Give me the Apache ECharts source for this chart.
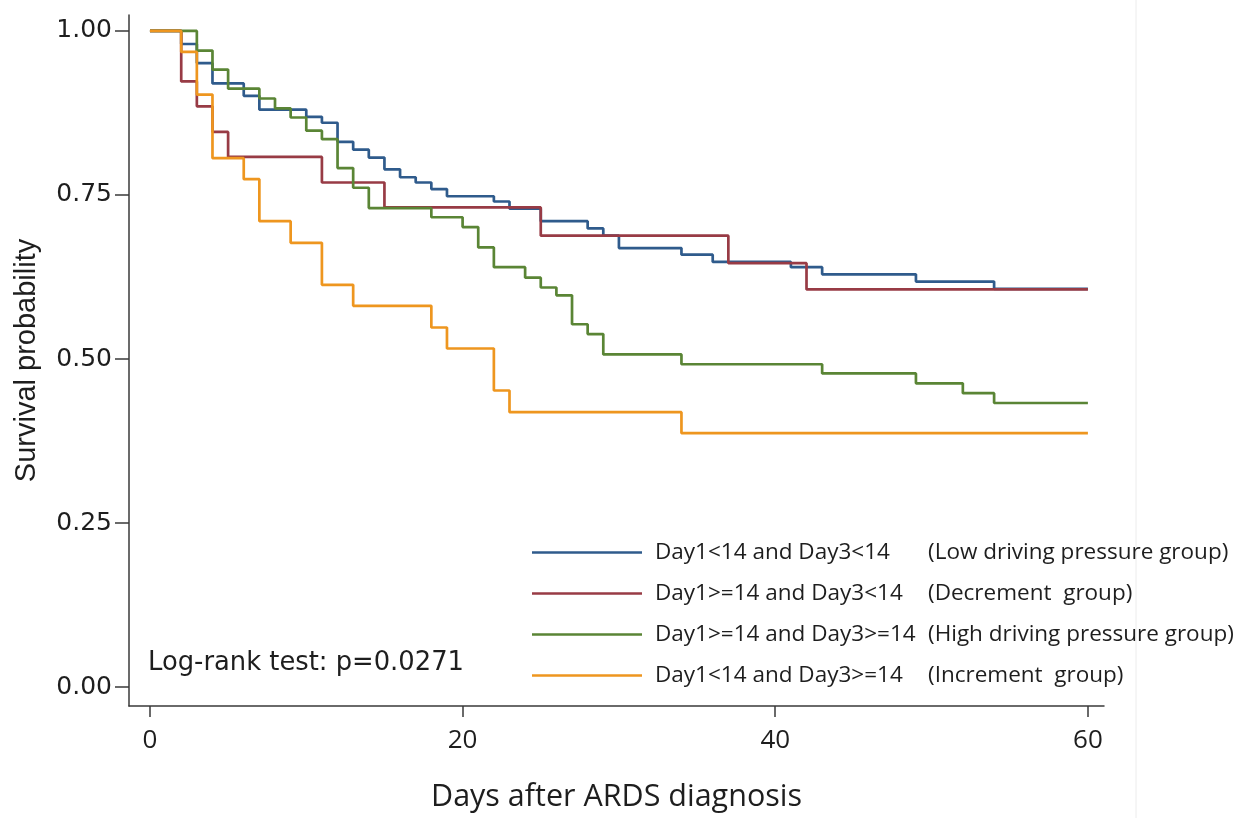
<!DOCTYPE html>
<html>
<head>
<meta charset="utf-8">
<script src="https://cdn.jsdelivr.net/npm/echarts@6/dist/echarts.min.js"></script>
<style>
  html, body { margin: 0; padding: 0; background: #fff; }
  #chart { width: 1250px; height: 818px; }
</style>
</head>
<body>
<div id="chart"></div>
<script>
// Kaplan-Meier curves, values (day, survival)
const lowDays  = [0, 2, 3, 4, 6, 7, 10, 11, 12, 13, 14, 15, 16, 17, 18, 19, 22, 23, 25, 28, 29, 30, 34, 36, 41, 43, 49, 54, 60];
const lowSurv  = [1, 0.980, 0.951, 0.920, 0.901, 0.880, 0.869, 0.860, 0.831, 0.819, 0.807, 0.789, 0.777, 0.769, 0.759, 0.748, 0.740, 0.729, 0.710, 0.699, 0.688, 0.669, 0.659, 0.648, 0.640, 0.629, 0.618, 0.607, 0.607];

const decDays  = [0, 2, 3, 4, 5, 11, 15, 25, 37, 42, 60];
const decSurv  = [1, 0.923, 0.885, 0.846, 0.808, 0.769, 0.731, 0.688, 0.646, 0.606, 0.606];

const highDays = [0, 3, 4, 5, 7, 8, 9, 10, 11, 12, 13, 14, 18, 20, 21, 22, 24, 25, 26, 27, 28, 29, 34, 43, 49, 52, 54, 60];
const highSurv = [1, 0.970, 0.941, 0.912, 0.897, 0.882, 0.868, 0.848, 0.835, 0.791, 0.761, 0.730, 0.716, 0.701, 0.670, 0.640, 0.624, 0.609, 0.597, 0.553, 0.538, 0.507, 0.492, 0.478, 0.463, 0.448, 0.433, 0.433];

const incDays  = [0, 2, 3, 4, 6, 7, 9, 11, 13, 18, 19, 22, 23, 34, 60];
const incSurv  = [1, 0.968, 0.903, 0.806, 0.774, 0.710, 0.677, 0.613, 0.581, 0.548, 0.516, 0.452, 0.419, 0.387, 0.387];

const groupNames = ['Day1<14 and Day3<14', 'Day1>=14 and Day3<14', 'Day1>=14 and Day3>=14', 'Day1<14 and Day3>=14'];
const groupNotes = ['(Low driving pressure group)', '(Decrement  group)', '(High driving pressure group)', '(Increment  group)'];
const groupColors = ['#2f5b8c', '#983b45', '#5a8535', '#ee961f'];

const xTicks = [0, 20, 40, 60];
const yTicks = [0, 0.25, 0.5, 0.75, 1];
const pValueText = 'Log-rank test: p=0.0271';

const pairs = (xs, ys) => xs.map((x, i) => [x, ys[i]]);
const curves = [pairs(lowDays, lowSurv), pairs(decDays, decSurv), pairs(highDays, highSurv), pairs(incDays, incSurv)];

const chart = echarts.init(document.getElementById('chart'), null, { renderer: 'canvas' });
const axisColor = '#3a3a3a';
const textColor = '#1e1e1e';

chart.setOption({
  animation: false,
  backgroundColor: '#fff',
  grid: { left: 129, right: 146, top: 15, bottom: 107, containLabel: false },
  title: {
    text: pValueText,
    left: 143,
    top: 645,
    textStyle: { fontFamily: 'DejaVu Sans', fontSize: 25.8, fontWeight: 'normal', color: textColor }
  },
  legend: {
    orient: 'vertical',
    left: 527,
    top: 536,
    icon: 'rect',
    itemWidth: 110,
    itemHeight: 2.5,
    itemGap: 18,
    data: groupNames,
    formatter: (name) => {
      const i = groupNames.indexOf(name);
      return '{a|' + name + '}{b|' + groupNotes[i] + '}';
    },
    textStyle: {
      color: textColor,
      padding: [0, 0, 0, 8],
      rich: {
        a: { width: 273, fontFamily: 'Open Sans', fontSize: 22.5, color: textColor, lineHeight: 28 },
        b: { fontFamily: 'Open Sans', fontSize: 22.5, color: textColor, lineHeight: 28 }
      }
    }
  },
  xAxis: {
    type: 'value',
    min: -1.34,
    max: 61.03,
    name: 'Days after ARDS diagnosis',
    nameLocation: 'middle',
    nameGap: 76,
    nameTextStyle: { fontFamily: 'Open Sans', fontSize: 30.5, color: textColor },
    axisLine: { onZero: false, lineStyle: { color: axisColor, width: 1.5 } },
    axisTick: { customValues: xTicks, length: 11, lineStyle: { color: axisColor, width: 1.5 } },
    axisLabel: { customValues: xTicks, fontFamily: 'Open Sans', fontSize: 26, color: textColor, margin: 22 },
    splitLine: { show: false }
  },
  yAxis: {
    type: 'value',
    min: -0.0287,
    max: 1.0242,
    name: 'Survival probability',
    nameLocation: 'middle',
    nameGap: 88,
    nameTextStyle: { fontFamily: 'Liberation Sans', fontSize: 29, color: textColor },
    axisLine: { onZero: false, lineStyle: { color: axisColor, width: 1.5 } },
    axisTick: { customValues: yTicks, length: 14, lineStyle: { color: axisColor, width: 1.5 } },
    axisLabel: {
      customValues: yTicks,
      fontFamily: 'DejaVu Sans',
      fontSize: 25,
      color: textColor,
      margin: 17,
      formatter: (v) => v.toFixed(2)
    },
    splitLine: { show: false }
  },
  graphic: [{
    type: 'line',
    shape: { x1: 1136, y1: 0, x2: 1136, y2: 818 },
    style: { stroke: '#ececec', lineWidth: 1 },
    silent: true
  }],
  series: curves.map((data, i) => ({
    name: groupNames[i],
    type: 'line',
    step: 'end',
    symbol: 'none',
    data,
    lineStyle: { color: groupColors[i], width: 2.7 },
    itemStyle: { color: groupColors[i] },
    emphasis: { disabled: true }
  }))
});
</script>
</body>
</html>
